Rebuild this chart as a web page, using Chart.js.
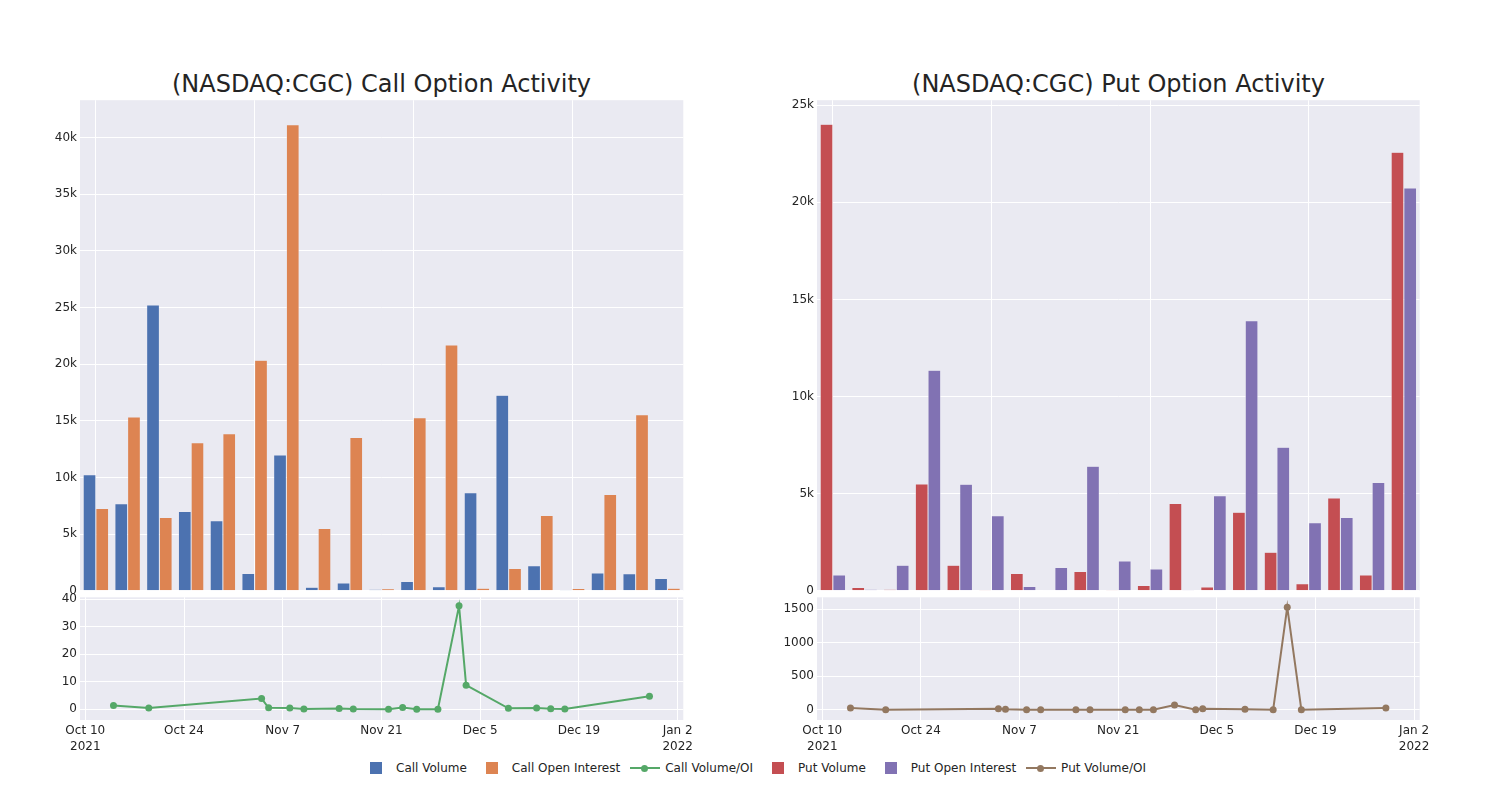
<!DOCTYPE html>
<html>
<head>
<meta charset="utf-8">
<script src="https://cdn.jsdelivr.net/npm/chart.js@4/dist/chart.umd.min.js"></script>
<style>
  body { margin: 0; background: #fff; width: 1500px; height: 800px; position: relative; overflow: hidden; font-family: 'DejaVu Sans', sans-serif; color: #242424; }
  canvas { position: absolute; }
  .title { position: absolute; top: 70px; height: 28px; line-height: 28px; font-size: 24px; text-align: center; white-space: nowrap; }
  #legend { position: absolute; left: 356px; top: 760px; height: 16px; display: flex; font-size: 12px; line-height: 16px; }
  .item { display: flex; align-items: center; margin-right: 5px; }
  .sym { width: 40px; height: 16px; position: relative; }
  .sq { position: absolute; left: 14px; top: 2px; width: 12px; height: 12px; }
  .ln { position: absolute; left: 5px; top: 7px; width: 30px; height: 2px; }
  .dot { position: absolute; left: 16px; top: 5px; width: 7px; height: 7px; border-radius: 50%; }
</style>
</head>
<body>

<div class="title" style="left:80px; width:603px;">(NASDAQ:CGC) Call Option Activity</div>
<div class="title" style="left:817px; width:603px;">(NASDAQ:CGC) Put Option Activity</div>

<canvas id="call-bars" width="700" height="511" style="left:0px; top:90px;"></canvas>
<canvas id="call-ratio" width="720" height="173" style="left:0px; top:587px;"></canvas>
<canvas id="put-bars" width="700" height="511" style="left:737.3px; top:90px;"></canvas>
<canvas id="put-ratio" width="720" height="173" style="left:737.3px; top:587px;"></canvas>

<div id="legend"></div>

<script>
// trading days shown in both panels
const dates = ['2021-10-14', '2021-10-19', '2021-11-04', '2021-11-05', '2021-11-08', '2021-11-10',
    '2021-11-15', '2021-11-17', '2021-11-22', '2021-11-24', '2021-11-26', '2021-11-29',
    '2021-12-02', '2021-12-03', '2021-12-09', '2021-12-13', '2021-12-15', '2021-12-17', '2021-12-29'];

const callVolume = [10240, 7680, 25220, 7000, 6180, 1530, 11980, 320, 680, 120,
    820, 350, 8650, 17270, 2210, 90, 1560, 1500, 1090];
const callOpenInterest = [7270, 15330, 6470, 13070, 13860, 20340, 41140, 5500, 13540, 180,
    15270, 21690, 230, 1970, 6650, 200, 8500, 15540, 230];
const callVolumeOI = [1.4, 0.5, 3.9, 0.54, 0.45, 0.08, 0.29, 0.06, 0.05, 0.67,
    0.05, 0.02, 37.6, 8.77, 0.33, 0.45, 0.18, 0.1, 4.74];

const putVolume = [24020, 170, 70, 5500, 1320, 50, 890, 20, 1000, 50,
    270, 4500, 190, 4050, 1990, 360, 4780, 810, 22580];
const putOpenInterest = [810, 70, 1320, 11360, 5480, 3870, 220, 1200, 6410, 1530,
    1120, 50, 4900, 13900, 7390, 3500, 3780, 5570, 20740];
const putVolumeOI = [25, 0, 15, 5, 0, 0, 0, 0, 0, 0,
    0, 70, 0, 15, 5, 0, 1530, 0, 25];

// axis ticks
const tickDates = ['2021-10-10', '2021-10-24', '2021-11-07', '2021-11-21', '2021-12-05', '2021-12-19', '2022-01-02'];
const tickLabels = [['Oct 10', '2021'], 'Oct 24', 'Nov 7', 'Nov 21', 'Dec 5', 'Dec 19', ['Jan 2', '2022']];
const callBarTicks = [0, 5000, 10000, 15000, 20000, 25000, 30000, 35000, 40000];
const putBarTicks = [0, 5000, 10000, 15000, 20000, 25000];
const callRatioTicks = [0, 10, 20, 30, 40];
const putRatioTicks = [0, 500, 1000, 1500];

const colors = {
    callVolume: '#4C72B0',
    callOI: '#DD8452',
    callRatio: '#55A868',
    putVolume: '#C44E52',
    putOI: '#8172B3',
    putRatio: '#937860'
};

Chart.defaults.font.family = "'DejaVu Sans', sans-serif";
Chart.defaults.font.size = 12;
Chart.defaults.color = '#242424';
Chart.defaults.animation = false;

const origin = Date.UTC(2021, 9, 10);
function dayOf(s) {
    const p = s.split('-').map(Number);
    return (Date.UTC(p[0], p[1] - 1, p[2]) - origin) / 86400000;
}
const tickDays = tickDates.map(dayOf);

// light plot background like the seaborn theme
const plotBg = {
    id: 'plotBg',
    beforeDraw(chart) {
        const { ctx, chartArea: a } = chart;
        ctx.save();
        ctx.fillStyle = '#EAEAF2';
        ctx.fillRect(a.left, a.top, a.right - a.left, a.bottom - a.top);
        ctx.restore();
    }
};

function kFormat(v) {
    return v === 0 ? '0' : (v / 1000) + 'k';
}

function barConfig(s1, s2, c1, c2, yMax, yTicks, padRight) {
    return {
        type: 'bar',
        data: {
            labels: dates,
            datasets: [
                { data: s1, backgroundColor: c1, borderColor: '#EAEAF2', borderWidth: 0.5 },
                { data: s2, backgroundColor: c2, borderColor: '#EAEAF2', borderWidth: 0.5 }
            ]
        },
        options: {
            responsive: false,
            layout: { padding: { top: 10, bottom: 10, left: 0, right: padRight } },
            categoryPercentage: 0.8,
            barPercentage: 1.0,
            plugins: { legend: { display: false }, tooltip: { enabled: false } },
            scales: {
                x: {
                    type: 'category',
                    border: { display: false },
                    ticks: { display: false },
                    grid: {
                        offset: false,
                        drawTicks: false,
                        color: ctx => ctx.index % 5 === 0 ? '#ffffff' : 'rgba(0,0,0,0)'
                    },
                    afterFit: scale => { scale.height = 0; }
                },
                y: {
                    min: 0,
                    max: yMax,
                    border: { display: false },
                    grid: { color: '#ffffff', drawTicks: false },
                    afterBuildTicks: scale => { scale.ticks = yTicks.map(v => ({ value: v })); },
                    ticks: { padding: 3, callback: kFormat },
                    afterFit: scale => { scale.width = 80; }
                }
            }
        },
        plugins: [plotBg]
    };
}

function ratioConfig(values, color, yMin, yMax, yTicks, padRight) {
    return {
        type: 'line',
        data: {
            datasets: [{
                data: values.map((v, i) => ({ x: dayOf(dates[i]), y: v })),
                borderColor: color,
                backgroundColor: color,
                borderWidth: 2,
                pointRadius: 3.5,
                pointBorderWidth: 0,
                tension: 0
            }]
        },
        options: {
            responsive: false,
            layout: { padding: { top: 10.3, bottom: 0, left: 0, right: padRight } },
            plugins: { legend: { display: false }, tooltip: { enabled: false } },
            scales: {
                x: {
                    type: 'linear',
                    min: -0.75,
                    max: 84.8,
                    border: { display: false },
                    grid: { color: '#ffffff', drawTicks: false },
                    afterBuildTicks: scale => { scale.ticks = tickDays.map(v => ({ value: v })); },
                    ticks: {
                        padding: 3,
                        maxRotation: 0,
                        autoSkip: false,
                        font: { lineHeight: 1.35 },
                        callback: (v) => tickLabels[tickDays.indexOf(v)]
                    },
                    afterFit: scale => { scale.height = 40; }
                },
                y: {
                    min: yMin,
                    max: yMax,
                    border: { display: false },
                    grid: { color: '#ffffff', drawTicks: false },
                    afterBuildTicks: scale => { scale.ticks = yTicks.map(v => ({ value: v })); },
                    ticks: { padding: 3, callback: v => String(v) },
                    afterFit: scale => { scale.width = 80; }
                }
            }
        },
        plugins: [plotBg]
    };
}

new Chart(document.getElementById('call-bars'),
    barConfig(callVolume, callOpenInterest, colors.callVolume, colors.callOI, 43300, callBarTicks, 16.7));
new Chart(document.getElementById('put-bars'),
    barConfig(putVolume, putOpenInterest, colors.putVolume, colors.putOI, 25260, putBarTicks, 17.3));
new Chart(document.getElementById('call-ratio'),
    ratioConfig(callVolumeOI, colors.callRatio, -3.9, 40.7, callRatioTicks, 36.7));
new Chart(document.getElementById('put-ratio'),
    ratioConfig(putVolumeOI, colors.putRatio, -154, 1678, putRatioTicks, 37.3));

// legend row under both panels
const legendItems = [
    { label: 'Call Volume', color: colors.callVolume, kind: 'bar' },
    { label: 'Call Open Interest', color: colors.callOI, kind: 'bar' },
    { label: 'Call Volume/OI', color: colors.callRatio, kind: 'line' },
    { label: 'Put Volume', color: colors.putVolume, kind: 'bar' },
    { label: 'Put Open Interest', color: colors.putOI, kind: 'bar' },
    { label: 'Put Volume/OI', color: colors.putRatio, kind: 'line' }
];
const legend = document.getElementById('legend');
legendItems.forEach(item => {
    const el = document.createElement('div');
    el.className = 'item';
    const sym = document.createElement('span');
    sym.className = 'sym';
    if (item.kind === 'bar') {
        sym.innerHTML = '<span class="sq" style="background:' + item.color + '"></span>';
    } else {
        sym.innerHTML = '<span class="ln" style="background:' + item.color + '"></span>' +
            '<span class="dot" style="background:' + item.color + '"></span>';
    }
    const txt = document.createElement('span');
    txt.textContent = item.label;
    el.appendChild(sym);
    el.appendChild(txt);
    legend.appendChild(el);
});
</script>
</body>
</html>
